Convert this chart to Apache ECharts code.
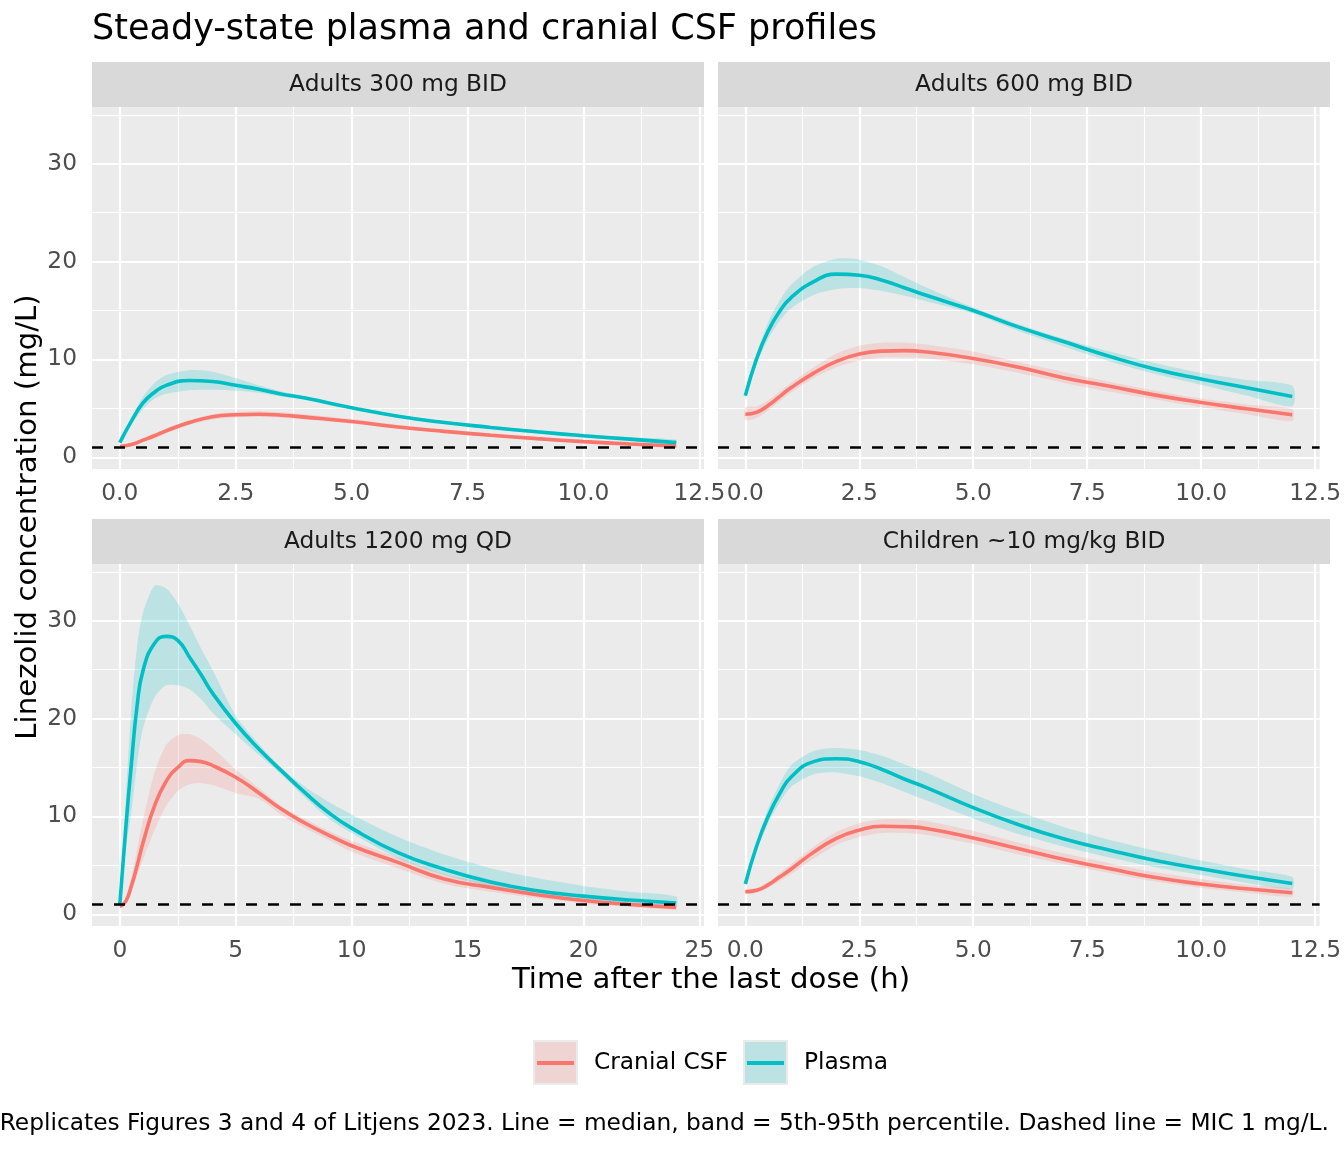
<!DOCTYPE html>
<html>
<head>
<meta charset="UTF-8">
<title>Steady-state plasma and cranial CSF profiles</title>
<script src="https://cdn.jsdelivr.net/npm/echarts@6/dist/echarts.min.js"></script>
<style>html,body{margin:0;padding:0;background:#fff;}</style>
</head>
<body>
<div id="main" style="width:1344px;height:1152px;"></div>
<script>
// sampling times (h)
var t12 = [0, 0.25, 0.5, 0.75, 1, 1.5, 2, 2.5, 3, 3.5, 4, 5, 6, 7, 8, 9, 10, 11, 12];
var t24 = [0, 0.25, 0.5, 0.75, 1, 1.5, 2, 2.5, 3, 3.5, 4, 5, 6, 7, 8, 9, 10, 12, 14, 16, 18, 20, 22, 24];

var panelNames = ['Adults 300 mg BID', 'Adults 600 mg BID', 'Adults 1200 mg QD', 'Children ~10 mg/kg BID'];
var MIC = 1;

// Adults 300 mg BID
var a300PlasmaMed = [1.5, 3.7, 5.55, 6.65, 7.35, 7.85, 7.75, 7.35, 6.95, 6.45, 6.05, 5.07, 4.2, 3.55, 3.05, 2.6, 2.2, 1.85, 1.5];
var a300PlasmaHi  = [1.6, 4.0, 6.2, 7.6, 8.4, 8.9, 8.75, 8.1, 7.35, 6.7, 6.2, 5.2, 4.35, 3.7, 3.2, 2.75, 2.35, 2.05, 1.8];
var a300PlasmaLo  = [1.4, 3.4, 4.9, 6.0, 6.5, 6.85, 6.9, 6.8, 6.6, 6.2, 5.85, 4.9, 4.05, 3.4, 2.9, 2.45, 2.05, 1.65, 1.3];
var a300CsfMed = [1.1, 1.3, 1.75, 2.2, 2.7, 3.55, 4.15, 4.35, 4.4, 4.3, 4.1, 3.65, 3.1, 2.65, 2.25, 1.9, 1.6, 1.35, 1.15];
var a300CsfHi  = [1.2, 1.45, 1.95, 2.45, 2.95, 3.8, 4.4, 4.65, 4.7, 4.6, 4.4, 3.9, 3.3, 2.85, 2.45, 2.05, 1.75, 1.5, 1.3];
var a300CsfLo  = [1.0, 1.15, 1.55, 1.95, 2.45, 3.3, 3.85, 4.1, 4.15, 4.05, 3.85, 3.45, 2.95, 2.5, 2.1, 1.75, 1.45, 1.2, 1.0];

// Adults 600 mg BID
var a600PlasmaMed = [6.3, 10.1, 12.9, 14.9, 16.3, 17.95, 18.72, 18.6, 18.1, 17.3, 16.5, 15.0, 13.3, 11.8, 10.3, 9.0, 8.0, 7.1, 6.2];
var a600PlasmaHi  = [6.5, 10.6, 13.8, 16.0, 17.6, 19.5, 20.3, 20.2, 19.5, 18.4, 17.3, 15.3, 13.6, 12.1, 10.8, 9.6, 8.6, 7.9, 7.3];
var a600PlasmaLo  = [6.0, 9.6, 12.1, 13.9, 15.2, 16.6, 17.2, 17.3, 17.0, 16.5, 15.9, 14.7, 12.9, 11.3, 9.8, 8.5, 7.4, 6.3, 5.2];
var a600CsfMed = [4.4, 4.6, 5.3, 6.2, 7.1, 8.6, 9.8, 10.55, 10.85, 10.9, 10.75, 10.1, 9.2, 8.1, 7.25, 6.35, 5.6, 4.95, 4.35];
var a600CsfHi  = [5.1, 5.2, 5.8, 6.7, 7.6, 9.2, 10.6, 11.4, 11.7, 11.7, 11.5, 10.8, 9.7, 8.7, 7.7, 6.8, 6.0, 5.4, 4.9];
var a600CsfLo  = [3.8, 4.0, 4.8, 5.7, 6.6, 8.1, 9.2, 9.9, 10.2, 10.2, 10.1, 9.5, 8.6, 7.6, 6.7, 5.9, 5.1, 4.4, 3.7];

// Adults 1200 mg QD
var a1200PlasmaMed = [1.0, 8.6, 15.4, 21.4, 24.9, 27.7, 28.4, 28.0, 26.3, 24.5, 22.6, 19.5, 16.9, 14.6, 12.4, 10.4, 8.8, 6.3, 4.6, 3.3, 2.4, 1.85, 1.45, 1.15];
var a1200PlasmaHi  = [1.1, 11.5, 21.0, 27.5, 30.8, 33.6, 33.3, 31.8, 29.6, 27.2, 25.0, 20.3, 17.4, 14.9, 13.0, 11.5, 10.2, 7.9, 6.1, 4.7, 3.7, 2.9, 2.3, 1.8];
var a1200PlasmaLo  = [0.9, 6.5, 10.5, 15.5, 19.0, 22.2, 23.4, 23.4, 23.0, 22.0, 20.6, 18.4, 16.3, 14.2, 11.9, 9.8, 8.3, 5.7, 4.0, 2.8, 2.0, 1.4, 1.05, 0.8];
var a1200CsfMed = [0.8, 1.3, 2.9, 5.0, 7.3, 11.1, 13.6, 15.0, 15.7, 15.6, 15.2, 14.0, 12.4, 10.7, 9.3, 8.1, 7.0, 5.3, 3.6, 2.75, 2.0, 1.4, 1.0, 0.7];
var a1200CsfHi  = [0.85, 1.6, 3.8, 6.7, 9.6, 14.5, 17.3, 18.3, 18.4, 17.9, 17.0, 14.8, 12.9, 11.0, 9.7, 8.5, 7.5, 5.8, 4.1, 3.2, 2.4, 1.7, 1.25, 0.9];
var a1200CsfLo  = [0.6, 1.1, 2.4, 4.0, 5.6, 8.6, 11.1, 12.6, 13.3, 13.4, 13.2, 12.4, 11.8, 10.1, 8.8, 7.6, 6.4, 4.7, 3.1, 2.3, 1.65, 1.1, 0.75, 0.5];

// Children ~10 mg/kg BID
var kidPlasmaMed = [3.1, 7.0, 10.0, 12.3, 14.0, 15.6, 15.9, 15.6, 14.8, 13.8, 12.9, 10.9, 9.15, 7.7, 6.55, 5.5, 4.65, 3.85, 3.15];
var kidPlasmaHi  = [3.2, 7.4, 10.8, 13.3, 15.2, 16.7, 17.0, 16.8, 16.2, 15.3, 14.4, 12.3, 10.5, 8.9, 7.6, 6.5, 5.5, 4.6, 3.8];
var kidPlasmaLo  = [3.0, 6.6, 9.3, 11.4, 13.0, 14.3, 14.5, 14.1, 13.4, 12.5, 11.6, 9.8, 8.2, 6.9, 5.8, 4.8, 4.0, 3.2, 2.6];
var kidCsfMed = [2.3, 2.45, 3.0, 3.8, 4.6, 6.35, 7.75, 8.6, 9.0, 8.95, 8.75, 7.8, 6.7, 5.6, 4.65, 3.75, 3.1, 2.6, 2.2];
var kidCsfHi  = [2.5, 2.7, 3.3, 4.2, 5.1, 6.9, 8.4, 9.3, 9.7, 9.7, 9.5, 8.5, 7.3, 6.2, 5.2, 4.3, 3.6, 3.0, 2.6];
var kidCsfLo  = [2.1, 2.2, 2.7, 3.4, 4.1, 5.7, 7.1, 7.9, 8.3, 8.3, 8.1, 7.2, 6.1, 5.1, 4.2, 3.35, 2.7, 2.2, 1.8];

// axis breaks
var yBreaks = [0, 10, 20, 30];
var yMinor = [5, 15, 25, 35];
var x12Breaks = [0, 2.5, 5, 7.5, 10, 12.5];
var x12Minor = [1.25, 3.75, 6.25, 8.75, 11.25];
var x24Breaks = [0, 5, 10, 15, 20, 25];
var x24Minor = [2.5, 7.5, 12.5, 17.5, 22.5];

var csfColor = '#F8766D', plasmaColor = '#00BFC4';
var FONT = '"DejaVu Sans", "Noto Sans", sans-serif';
var SMALL = 23.3, MEDIUM = 29.2, LARGE = 35;

var myChart = echarts.init(document.getElementById('main'), null, {renderer: 'canvas'});

// panel layout
var boxes = [
    {left: 92, top: 107, width: 612, height: 362},
    {left: 718, top: 107, width: 612, height: 362},
    {left: 92, top: 564, width: 612, height: 362},
    {left: 718, top: 564, width: 612, height: 362}
];
var panelData = [
    {t: t12, pm: a300PlasmaMed, ph: a300PlasmaHi, pl: a300PlasmaLo, cm: a300CsfMed, ch: a300CsfHi, cl: a300CsfLo, xb: x12Breaks, xm: x12Minor, xmin: -0.6, xmax: 12.6, dec: 1},
    {t: t12, pm: a600PlasmaMed, ph: a600PlasmaHi, pl: a600PlasmaLo, cm: a600CsfMed, ch: a600CsfHi, cl: a600CsfLo, xb: x12Breaks, xm: x12Minor, xmin: -0.6, xmax: 12.6, dec: 1},
    {t: t24, pm: a1200PlasmaMed, ph: a1200PlasmaHi, pl: a1200PlasmaLo, cm: a1200CsfMed, ch: a1200CsfHi, cl: a1200CsfLo, xb: x24Breaks, xm: x24Minor, xmin: -1.2, xmax: 25.2, dec: 0},
    {t: t12, pm: kidPlasmaMed, ph: kidPlasmaHi, pl: kidPlasmaLo, cm: kidCsfMed, ch: kidCsfHi, cl: kidCsfLo, xb: x12Breaks, xm: x12Minor, xmin: -0.6, xmax: 12.6, dec: 1}
];

function bandSeries(idx, times, lo, hi, fill) {
    var rows = times.map(function (t, i) { return [t, lo[i], hi[i]]; });
    return {
        type: 'custom', xAxisIndex: idx, yAxisIndex: idx, z: 2, silent: true,
        data: rows,
        encode: {x: 0, y: [1, 2]},
        renderItem: function (params, api) {
            if (params.dataIndex !== 0) return null;
            var top = [], bot = [];
            for (var i = 0; i < rows.length; i++) {
                top.push(api.coord([rows[i][0], rows[i][2]]));
                bot.push(api.coord([rows[i][0], rows[i][1]]));
            }
            return {
                type: 'polygon',
                shape: {points: top.concat(bot.reverse()), smooth: 0.25},
                style: {fill: fill}
            };
        }
    };
}

function lineSeries(idx, times, med, color) {
    return {
        type: 'line', xAxisIndex: idx, yAxisIndex: idx, z: 3, silent: true,
        data: times.map(function (t, i) { return [t, med[i]]; }),
        showSymbol: false, smooth: 0.5,
        lineStyle: {color: color, width: 3.6}
    };
}

var grids = [], xAxes = [], yAxes = [], series = [], graphics = [];

panelData.forEach(function (p, idx) {
    var b = boxes[idx];
    grids.push({left: b.left, top: b.top, width: b.width, height: b.height, show: true, backgroundColor: '#EBEBEB', borderWidth: 0, containLabel: false});
    xAxes.push({
        type: 'value', gridIndex: idx, min: p.xmin, max: p.xmax,
        axisLine: {show: false},
        axisTick: {show: true, customValues: p.xb, length: 7, lineStyle: {color: '#333333', width: 2}},
        axisLabel: {show: true, customValues: p.xb, margin: 13, color: '#4D4D4D', fontSize: SMALL, fontFamily: FONT,
            formatter: function (v) { return v.toFixed(p.dec); }},
        splitLine: {show: false}
    });
    yAxes.push({
        type: 'value', gridIndex: idx, min: -1.2, max: 35.8,
        axisLine: {show: false},
        axisTick: {show: idx % 2 === 0, customValues: yBreaks, length: 7, lineStyle: {color: '#333333', width: 2}},
        axisLabel: {show: idx % 2 === 0, customValues: yBreaks, margin: 15, color: '#4D4D4D', fontSize: SMALL, fontFamily: FONT},
        splitLine: {show: false}
    });

    // panel grid lines
    var gl = [];
    p.xm.forEach(function (v) { gl.push({xAxis: v, lineStyle: {color: '#FFFFFF', width: 1.1, type: 'solid'}}); });
    yMinor.forEach(function (v) { gl.push({yAxis: v, lineStyle: {color: '#FFFFFF', width: 1.1, type: 'solid'}}); });
    p.xb.forEach(function (v) { gl.push({xAxis: v, lineStyle: {color: '#FFFFFF', width: 2.2, type: 'solid'}}); });
    yBreaks.forEach(function (v) { gl.push({yAxis: v, lineStyle: {color: '#FFFFFF', width: 2.2, type: 'solid'}}); });
    series.push({
        type: 'line', xAxisIndex: idx, yAxisIndex: idx, data: [], silent: true, z: 1,
        markLine: {silent: true, symbol: 'none', z: 1, animation: false, label: {show: false}, emphasis: {disabled: true}, data: gl}
    });

    series.push(bandSeries(idx, p.t, p.cl, p.ch, 'rgba(248,118,109,0.2)'));
    series.push(bandSeries(idx, p.t, p.pl, p.ph, 'rgba(0,191,196,0.2)'));
    series.push(lineSeries(idx, p.t, p.cm, csfColor));
    series.push(lineSeries(idx, p.t, p.pm, plasmaColor));

    // MIC reference
    series.push({
        type: 'line', xAxisIndex: idx, yAxisIndex: idx, data: [], silent: true, z: 10,
        markLine: {silent: true, symbol: 'none', z: 10, animation: false, label: {show: false}, emphasis: {disabled: true},
            data: [{yAxis: MIC, lineStyle: {color: '#000000', width: 2.6, type: [11, 11]}}]}
    });

    // strip
    graphics.push({type: 'rect', shape: {x: b.left, y: b.top - 45, width: b.width, height: 45}, style: {fill: '#D9D9D9'}, silent: true});
    graphics.push({type: 'text', x: b.left + b.width / 2, y: b.top - 22, silent: true,
        style: {text: panelNames[idx], align: 'center', verticalAlign: 'middle', fontSize: SMALL, fontFamily: FONT, fill: '#1A1A1A'}});
});

// title, axis titles, caption
graphics.push({type: 'text', x: 92, y: 30, silent: true,
    style: {text: 'Steady-state plasma and cranial CSF profiles', align: 'left', verticalAlign: 'middle', fontSize: LARGE, fontFamily: FONT, fill: '#000000'}});
graphics.push({type: 'text', x: 711, y: 980, silent: true,
    style: {text: 'Time after the last dose (h)', align: 'center', verticalAlign: 'middle', fontSize: MEDIUM, fontFamily: FONT, fill: '#000000'}});
graphics.push({type: 'text', x: 28, y: 517, rotation: Math.PI / 2, silent: true,
    style: {text: 'Linezolid concentration (mg/L)', align: 'center', verticalAlign: 'middle', fontSize: MEDIUM, fontFamily: FONT, fill: '#000000'}});
graphics.push({type: 'text', x: 1329, y: 1124, silent: true,
    style: {text: 'Replicates Figures 3 and 4 of Litjens 2023. Line = median, band = 5th-95th percentile. Dashed line = MIC 1 mg/L.',
        align: 'right', verticalAlign: 'middle', fontSize: SMALL, fontFamily: FONT, fill: '#000000'}});

// legend keys
var legendItems = [
    {name: 'Cranial CSF', color: csfColor, fill: 'rgba(248,118,109,0.2)', x: 533},
    {name: 'Plasma', color: plasmaColor, fill: 'rgba(0,191,196,0.2)', x: 743}
];
legendItems.forEach(function (it) {
    graphics.push({type: 'rect', shape: {x: it.x, y: 1040, width: 45, height: 45}, style: {fill: '#EBEBEB'}, silent: true});
    graphics.push({type: 'rect', shape: {x: it.x + 2, y: 1042, width: 41, height: 41}, style: {fill: it.fill}, silent: true});
    graphics.push({type: 'line', shape: {x1: it.x + 4, y1: 1063, x2: it.x + 41, y2: 1063}, style: {stroke: it.color, lineWidth: 4}, silent: true});
    graphics.push({type: 'text', x: it.x + 61, y: 1063, silent: true,
        style: {text: it.name, align: 'left', verticalAlign: 'middle', fontSize: SMALL, fontFamily: FONT, fill: '#000000'}});
});

var option = {
    backgroundColor: '#FFFFFF',
    animation: false,
    grid: grids,
    xAxis: xAxes,
    yAxis: yAxes,
    series: series,
    graphic: graphics
};

myChart.setOption(option);
</script>
</body>
</html>
